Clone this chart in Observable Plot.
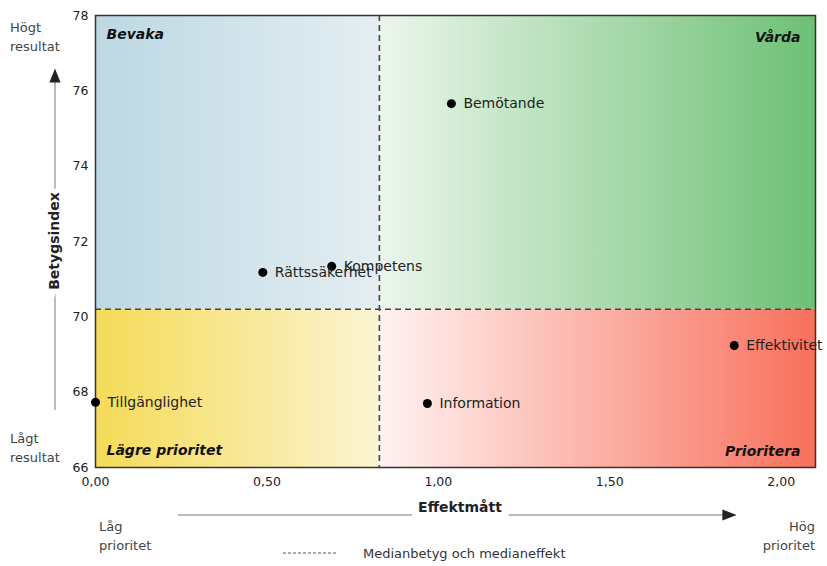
<!DOCTYPE html>
<html><head><meta charset="utf-8">
<script src="https://cdn.jsdelivr.net/npm/d3@7"></script>
<script src="https://cdn.jsdelivr.net/npm/@observablehq/plot@0.6"></script>
<style>body{margin:0;background:#fff;font-family:"DejaVu Sans",Verdana,sans-serif}</style>
</head><body><div id="chart"></div>
<script>
const names = ["Bemötande","Kompetens","Rättssäkerhet","Effektivitet","Information","Tillgänglighet"];
const effekt = [1.038, 0.689, 0.488, 1.863, 0.968, 0.0];
const betyg = [75.66, 71.34, 71.18, 69.24, 67.70, 67.73];
const medianEffekt = 0.828;
const medianBetyg = 70.2;
const xTicks = [0, 0.5, 1, 1.5, 2];
const yTicks = [66, 68, 70, 72, 74, 76, 78];
const quadNames = ["Bevaka","Vårda","Lägre prioritet","Prioritera"];
const quadColors = [["#bcd8e3","#e4eef2"],["#ecf6ec","#6dc074"],["#f5db57","#fbf4d2"],["#fff3f2","#f8705c"]];

const xDom = [0, 2.1], yDom = [66, 78];
const data = names.map((n,i)=>({name:n, x:effekt[i], y:betyg[i]}));
const quads = [
  {id:0, x1:xDom[0], x2:medianEffekt, y1:medianBetyg, y2:yDom[1], label:quadNames[0], lx:xDom[0], ly:yDom[1], right:false, top:true},
  {id:1, x1:medianEffekt, x2:xDom[1], y1:medianBetyg, y2:yDom[1], label:quadNames[1], lx:xDom[1], ly:yDom[1], right:true, top:true},
  {id:2, x1:xDom[0], x2:medianEffekt, y1:yDom[0], y2:medianBetyg, label:quadNames[2], lx:xDom[0], ly:yDom[0], right:false, top:false},
  {id:3, x1:medianEffekt, x2:xDom[1], y1:yDom[0], y2:medianBetyg, label:quadNames[3], lx:xDom[1], ly:yDom[0], right:true, top:false}
];
const fmt = d => d3.format(".2f")(d).replace(".", ",");
const font = "DejaVu Sans, Verdana, sans-serif";

function defs() {
  const d = d3.create("svg:defs");
  quadColors.forEach((c,i)=>{
    const g = d.append("linearGradient").attr("id","qg"+i).attr("x1","0").attr("x2","1").attr("y1","0").attr("y2","0");
    g.append("stop").attr("offset","0").attr("stop-color",c[0]);
    g.append("stop").attr("offset","1").attr("stop-color",c[1]);
  });
  return d.node();
}

function annotations(index, scales, values, dim) {
  const g = d3.create("svg:g").attr("font-family", font).attr("text-anchor","start");
  const L = dim.marginLeft, R = dim.width - dim.marginRight, T = dim.marginTop, B = dim.height - dim.marginBottom;
  const mk = d3.create("svg:defs");
  mk.append("marker").attr("id","arr").attr("viewBox","0 0 10 10").attr("refX","9").attr("refY","5")
    .attr("markerWidth","7").attr("markerHeight","7").attr("orient","auto-start-reverse")
    .append("path").attr("d","M0,1L10,5L0,9z").attr("fill","#222");
  g.node().appendChild(mk.node());
  // vertical arrow
  const ax = 55;
  g.append("line").attr("x1",ax).attr("x2",ax).attr("y1",B-57).attr("y2",T+55)
    .attr("stroke","#bbb").attr("stroke-width",2).attr("marker-end","url(#arr)");
  g.append("text").attr("transform",`translate(${ax+4},${(T+B)/2})) rotate(-90)`.replace("))",")"))
    .attr("text-anchor","middle").attr("font-weight","bold").attr("font-size",14).attr("fill","#222")
    .attr("stroke","#fff").attr("stroke-width",10).attr("paint-order","stroke").text("Betygsindex");
  const side = (x, y, lines, anchor) => lines.forEach((t,i)=> g.append("text").attr("x",x).attr("y",y+i*19)
      .attr("text-anchor",anchor).attr("font-size",13).attr("fill","#444").text(t));
  side(10, T+17, ["Högt","resultat"], "start");
  side(10, B-24, ["Lågt","resultat"], "start");
  // horizontal arrow
  const ay = B + 48;
  g.append("line").attr("x1",L+83).attr("x2",R-80).attr("y1",ay).attr("y2",ay)
    .attr("stroke","#bbb").attr("stroke-width",2).attr("marker-end","url(#arr)");
  g.append("text").attr("x",(L+R)/2 + 5).attr("y",B+45).attr("text-anchor","middle")
    .attr("font-weight","bold").attr("font-size",14).attr("fill","#222")
    .attr("stroke","#fff").attr("stroke-width",14).attr("paint-order","stroke").text("Effektmått");
  side(L+4, B+64, ["Låg","prioritet"], "start");
  side(R, B+64, ["Hög","prioritet"], "end");
  // legend
  g.append("line").attr("x1",283).attr("x2",337).attr("y1",B+86).attr("y2",B+86)
    .attr("stroke","#555").attr("stroke-width",1).attr("stroke-dasharray","3,2");
  g.append("text").attr("x",363).attr("y",B+91).attr("text-anchor","start").attr("font-size",13).attr("fill","#333").text("Medianbetyg och medianeffekt");
  return g.node();
}

const qLabel = (filter, opts) => Plot.text(quads.filter(filter), {x:"lx", y:"ly", text:"label",
  fontWeight:"bold", fontStyle:"italic", fontSize:14, fill:"#111", ...opts});

const plot = Plot.plot({
  width: 827, height: 566,
  marginLeft: 95, marginRight: 12, marginTop: 15, marginBottom: 99,
  style: {fontFamily: font, fontSize: "12.5px", color: "#222", background: "#fff"},
  x: {domain: xDom, ticks: xTicks, tickFormat: fmt, tickSize: 0, tickPadding: 10, label: null},
  y: {domain: yDom, ticks: yTicks, tickSize: 0, tickPadding: 7, label: null},
  marks: [
    defs,
    Plot.rect(quads, {x1:"x1", x2:"x2", y1:"y1", y2:"y2", fill: d => `url(#qg${d.id})`}),
    Plot.ruleX([medianEffekt], {stroke:"#444", strokeWidth:1.6, strokeDasharray:"6,4"}),
    Plot.ruleY([medianBetyg], {stroke:"#444", strokeWidth:1.6, strokeDasharray:"6,4"}),
    Plot.frame({stroke:"#333", strokeWidth:1.5}),
    qLabel(d => !d.right && d.top, {textAnchor:"start", dx:11, dy:19}),
    qLabel(d => d.right && d.top, {textAnchor:"end", dx:-15, dy:22}),
    qLabel(d => !d.right && !d.top, {textAnchor:"start", dx:11, dy:-17}),
    qLabel(d => d.right && !d.top, {textAnchor:"end", dx:-15, dy:-16}),
    Plot.dot(data, {x:"x", y:"y", r:4.5, fill:"#000", stroke:"none"}),
    Plot.text(data, {x:"x", y:"y", text:"name", textAnchor:"start", dx:12, fontSize:14, fill:"#222"}),
    annotations
  ]
});
document.getElementById("chart").appendChild(plot);
</script></body></html>
